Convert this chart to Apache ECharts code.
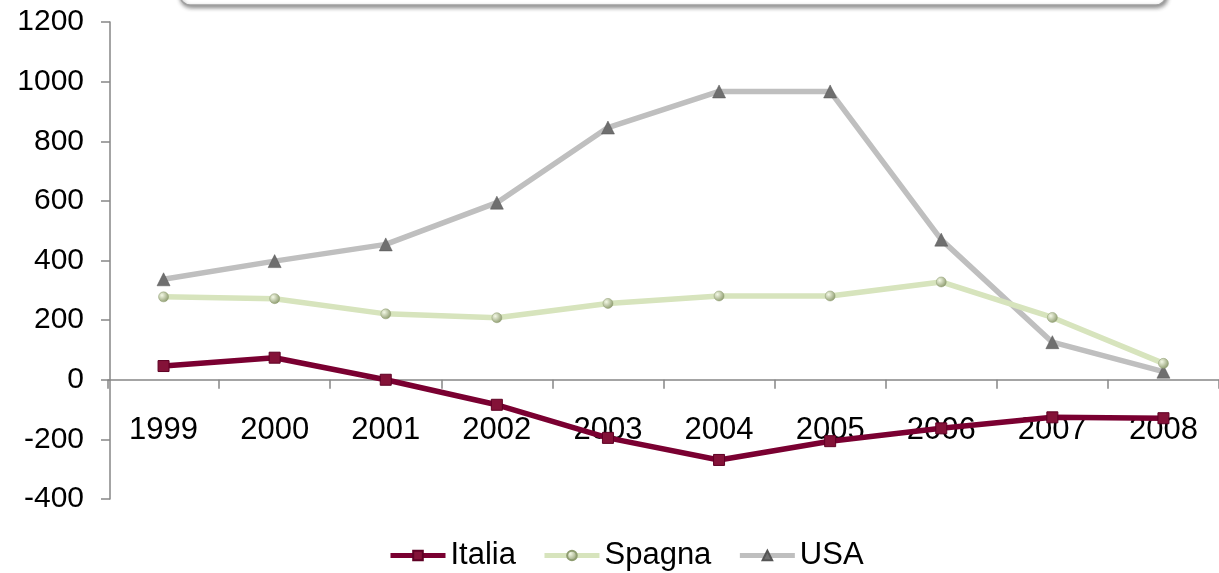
<!DOCTYPE html>
<html>
<head>
<meta charset="utf-8">
<script src="https://cdn.jsdelivr.net/npm/echarts@6/dist/echarts.min.js"></script>
<style>
html,body{margin:0;padding:0;background:#fff;}
#chart{width:1219px;height:573px;}
</style>
</head>
<body>
<div id="chart"></div>
<script>
var categories = ['1999','2000','2001','2002','2003','2004','2005','2006','2007','2008'];
var italia = [46, 74, 0, -84, -195, -269, -206, -163, -126, -129];
var spagna = [278, 272, 221, 208, 256, 281, 281, 328, 209, 55];
var usa = [337, 398, 454, 594, 846, 967, 967, 470, 126, 27];
var yTicks = [-400, -200, 0, 200, 400, 600, 800, 1000, 1200];

var FONT = '"Liberation Sans", Arial, sans-serif';
var chart = echarts.init(document.getElementById('chart'), null, {renderer: 'canvas'});

function radial(c1, c2) {
  return new echarts.graphic.RadialGradient(0.35, 0.35, 0.8, [
    {offset: 0, color: c1}, {offset: 1, color: c2}
  ]);
}

var option = {
  animation: false,
  backgroundColor: '#ffffff',
  textStyle: {fontFamily: FONT},
  graphic: [{
    type: 'rect',
    shape: {x: 180, y: -40, width: 986, height: 45, r: 10},
    style: {fill: '#ffffff', stroke: '#a0a0a0', lineWidth: 1.5,
      shadowBlur: 4, shadowOffsetX: 1, shadowOffsetY: 2, shadowColor: 'rgba(0,0,0,0.45)'},
    z: 10
  }],
  grid: {left: 108, top: 22, width: 1126, height: 477, containLabel: false},
  legend: {
    left: 388, top: 540, padding: 0,
    itemWidth: 55, itemHeight: 12, itemGap: 26,
    lineStyle: {width: 5},
    textStyle: {fontSize: 31, color: '#000', fontFamily: FONT},
    data: ['Italia', 'Spagna', 'USA']
  },
  xAxis: {
    type: 'category',
    data: categories,
    boundaryGap: true,
    axisLine: {onZero: true, lineStyle: {color: '#868686', width: 1.5}},
    axisTick: {show: true, length: 9, inside: false, lineStyle: {color: '#868686', width: 1.5}},
    axisLabel: {fontSize: 31, color: '#000', margin: -84, fontFamily: FONT, interval: 0},
    splitLine: {show: false}
  },
  yAxis: {
    type: 'value',
    min: -400, max: 1200, interval: 200,
    offset: -2,
    axisLine: {show: true, onZero: false, lineStyle: {color: '#868686', width: 1.5}},
    axisTick: {show: true, length: 9, lineStyle: {color: '#868686', width: 1.5}},
    axisLabel: {fontSize: 30, color: '#000', margin: 26, fontFamily: FONT,
      formatter: function (v) { return yTicks.indexOf(v) >= 0 ? String(v) : ''; }},
    splitLine: {show: false}
  },
  series: [
    {
      name: 'Italia', type: 'line', data: italia,
      symbol: 'rect', symbolSize: 11,
      lineStyle: {color: '#7a0031', width: 5.5},
      itemStyle: {color: '#841238', borderColor: '#5e0024', borderWidth: 1},
      z: 5
    },
    {
      name: 'Spagna', type: 'line', data: spagna,
      symbol: 'circle', symbolSize: 10,
      lineStyle: {color: '#d7e4bd', width: 5.5},
      itemStyle: {color: radial('#f4f9e6', '#7d8c5c'), borderColor: '#8e9c70', borderWidth: 0.5},
      z: 3
    },
    {
      name: 'USA', type: 'line', data: usa,
      symbol: 'triangle', symbolSize: 13,
      lineStyle: {color: '#bfbfbf', width: 5.5},
      itemStyle: {color: '#6f6f6f', borderColor: '#555', borderWidth: 0.5},
      z: 2
    }
  ]
};
chart.setOption(option);
</script>
</body>
</html>
